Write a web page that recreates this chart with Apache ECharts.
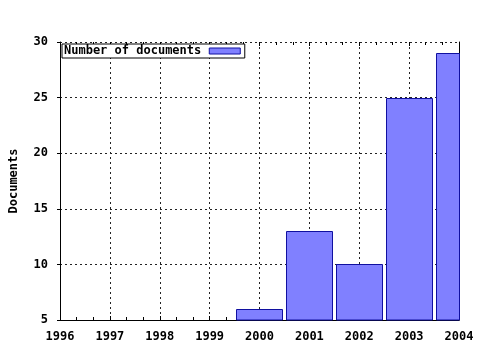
<!DOCTYPE html>
<html><head><meta charset="utf-8">
<script src="https://cdn.jsdelivr.net/npm/echarts@6/dist/echarts.min.js"></script>
<style>html,body{margin:0;padding:0;background:#fff}#c{width:480px;height:350px}</style>
</head><body><div id="c"></div>
<script>
const years = [2000, 2001, 2002, 2003, 2004];
const documents = [6, 13, 10, 25, 29];
const seriesName = 'Number of documents';
const yTitle = 'Documents';
const xMin = 1996, xMax = 2004;
const yMin = 5, yMax = 30, yStep = 5;

const FONT = 'DejaVu Sans Mono';
const FILL = '#8080ff', EDGE = '#1010a0';
const chart = echarts.init(document.getElementById('c'), null, {renderer: 'canvas'});
const dotted = {show: true, lineStyle: {color: '#222', type: [2, 3], width: 1}};
chart.setOption({
  animation: false,
  backgroundColor: '#fff',
  grid: {left: 58, right: 21, top: 42, bottom: 30, containLabel: false},
  legend: {
    show: true, left: 62, top: 44, orient: 'horizontal', align: 'right',
    padding: [1, 4, 1, 2], borderColor: '#000', borderWidth: 1, backgroundColor: '#fff',
    itemWidth: 31, itemHeight: 6, icon: 'rect',
    itemStyle: {color: FILL, borderColor: EDGE, borderWidth: 1},
    textStyle: {fontFamily: FONT, fontWeight: 'bold', fontSize: 12, color: '#000', padding: [0, 3, 0, 0]},
    data: [{name: seriesName}]
  },
  xAxis: [{
    type: 'value', min: xMin, max: xMax, interval: 1, position: 'bottom',
    axisLine: {show: true, lineStyle: {color: '#000', width: 1}},
    axisTick: {show: true, inside: true, length: 4, lineStyle: {color: '#000'}},
    minorTick: {show: true, splitNumber: 3, length: 3, lineStyle: {color: '#000'}},
    axisLabel: {fontFamily: FONT, fontWeight: 'bold', fontSize: 12, color: '#000', margin: 11,
      formatter: v => String(v)},
    splitLine: dotted
  }, {
    type: 'value', min: xMin, max: xMax, interval: 1, position: 'top',
    axisLine: {show: false},
    axisTick: {show: true, inside: true, length: 4, lineStyle: {color: '#000'}},
    minorTick: {show: true, splitNumber: 3, length: 3, lineStyle: {color: '#000'}},
    axisLabel: {show: false}, splitLine: {show: false}
  }],
  yAxis: [{
    type: 'value', min: yMin, max: yMax, interval: yStep, position: 'left',
    name: yTitle, nameLocation: 'middle', nameGap: 40, nameRotate: 90,
    nameTextStyle: {fontFamily: FONT, fontWeight: 'bold', fontSize: 12, color: '#000'},
    axisLine: {show: true, lineStyle: {color: '#000', width: 1}},
    axisTick: {show: true, inside: false, length: 3, lineStyle: {color: '#000'}},
    axisLabel: {fontFamily: FONT, fontWeight: 'bold', fontSize: 12, color: '#000', margin: 12},
    splitLine: dotted
  }, {
    type: 'value', min: yMin, max: yMax, interval: yStep, position: 'right',
    axisLine: {show: true, lineStyle: {color: '#000', width: 1}},
    axisTick: {show: false}, axisLabel: {show: false}, splitLine: {show: false}
  }],
  series: [{
    name: seriesName, type: 'custom', xAxisIndex: 0, yAxisIndex: 0,
    itemStyle: {color: FILL, borderColor: EDGE, borderWidth: 1},
    encode: {x: 0, y: 1},
    renderItem: function (params, api) {
      const xv = api.value(0), v = api.value(1);
      const top = api.coord([xv, v]);
      const base = api.coord([xv, yMin]);
      const w = api.size([1, 0])[0] * 0.92;
      const x0 = Math.floor(top[0] - w / 2) + 0.5;
      const y0 = Math.round(top[1]) + 0.5;
      const cs = params.coordSys;
      const shape = echarts.graphic.clipRectByRect(
        {x: x0, y: y0, width: Math.round(w), height: Math.round(base[1]) - Math.round(top[1])},
        {x: cs.x, y: cs.y, width: cs.width + 0.5, height: cs.height});
      if (!shape) return null;
      return {type: 'rect', shape: shape,
        style: {fill: FILL, stroke: EDGE, lineWidth: 1}};
    },
    data: years.map((y, i) => [y, documents[i]])
  }]
});
</script></body></html>
